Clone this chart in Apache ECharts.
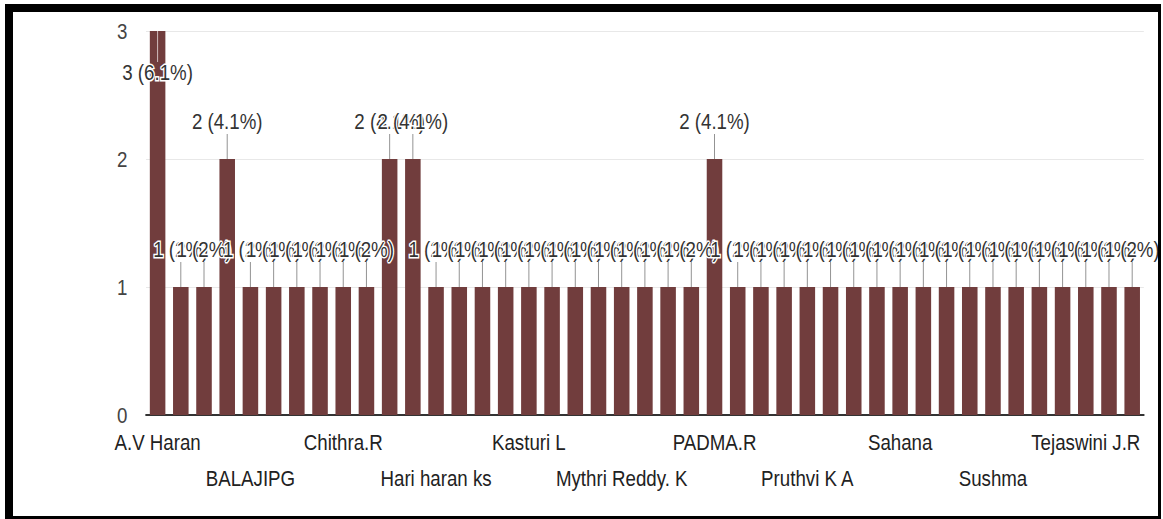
<!DOCTYPE html>
<html>
<head>
<meta charset="utf-8">
<script src="https://cdn.jsdelivr.net/npm/echarts@6/dist/echarts.min.js"></script>
<style>
  html, body { margin: 0; padding: 0; background: #fff; overflow: hidden; }
  #wrap { position: absolute; left: 0; top: 0; width: 1163px; height: 519px; overflow: hidden; }
  #chart { position: absolute; left: 0; top: 0; width: 1368px; height: 519px; transform: scaleX(0.85); transform-origin: 0 0; }
  #frame { position: absolute; left: 5px; top: 4px; width: 1156px; height: 515px; box-sizing: border-box;
           border-left: 8px solid #000; border-top: 8px solid #000; border-right: 3px solid #000; border-bottom: 3px solid #000;
           pointer-events: none; }
</style>
</head>
<body>
<div id="wrap"><div id="chart"></div></div>
<div id="frame"></div>
<script>
const names = [
  'A.V Haran', 'Abhishek M', 'Anitha K', 'Arun Kumar', 'BALAJIPG', 'Bhavya S', 'Chaitra N', 'Chandan R',
  'Chithra.R', 'Deepa M', 'Divya K', 'Ganesh B', 'Hari haran ks', 'Harish N', 'Kavya R', 'Kiran S',
  'Kasturi L', 'Lakshmi P', 'Madhu K', 'Manjunath H', 'Mythri Reddy. K', 'Nagaraj S', 'Nandini M', 'Navya G',
  'PADMA.R', 'Pavan K', 'Pooja B', 'Prakash R', 'Pruthvi K A', 'Rakesh T', 'Ramya S', 'Ravi Kumar',
  'Sahana', 'Sandeep M', 'Shilpa R', 'Sowmya K', 'Sushma', 'Swathi N', 'Sunil B', 'Tanuja H',
  'Tejaswini J.R', 'Usha M', 'Vinay K'
];
const counts = [
  3, 1, 1, 2, 1, 1, 1, 1,
  1, 1, 2, 2, 1, 1, 1, 1,
  1, 1, 1, 1, 1, 1, 1, 1,
  2, 1, 1, 1, 1, 1, 1, 1,
  1, 1, 1, 1, 1, 1, 1, 1,
  1, 1, 1
];
const yTicks = [0, 1, 2, 3];

const total = counts.reduce((a, b) => a + b, 0);
const maxVal = Math.max(...counts);
const FONT = '"Liberation Sans", Arial, sans-serif';
const SX = 0.85; // horizontal condensing of the whole drawing (narrow-font look)

function pctText(v) {
  const p = Math.round(v / total * 1000) / 10;
  const s = (p % 1 === 0) ? String(p) : p.toFixed(1);
  return v + ' (' + s + '%)';
}

const xLabelBase = { color: '#222', fontFamily: FONT, fontSize: 22 };

const chart = echarts.init(document.getElementById('chart'), null, { renderer: 'svg' });
chart.setOption({
  backgroundColor: '#fff',
  animation: false,
  grid: { left: 146 / SX, right: 19 / SX, top: 31, bottom: 104, containLabel: false },
  xAxis: [
    {
      type: 'category',
      data: names,
      axisLine: { show: true, lineStyle: { color: '#333', width: 2 } },
      axisTick: { show: false },
      axisLabel: Object.assign({}, xLabelBase, {
        margin: 16,
        interval: function (index) { return index % 8 === 0; }
      })
    },
    {
      type: 'category',
      data: names,
      position: 'bottom',
      axisLine: { show: false },
      axisTick: { show: false },
      splitLine: { show: false },
      axisLabel: Object.assign({}, xLabelBase, {
        margin: 52,
        interval: function (index) { return index % 8 === 4; }
      })
    }
  ],
  yAxis: {
    type: 'value',
    min: yTicks[0],
    max: yTicks[yTicks.length - 1],
    interval: 1,
    axisLine: { show: false },
    axisTick: { show: false },
    axisLabel: { color: '#444', fontFamily: FONT, fontSize: 22, margin: 22 },
    splitLine: { show: true, lineStyle: { color: '#e6e6e6', width: 1 } }
  },
  series: [
    {
      type: 'bar',
      data: counts,
      xAxisIndex: 0,
      barCategoryGap: '33%',
      itemStyle: { color: '#713d3d' },
      z: 2
    },
    {
      type: 'custom',
      xAxisIndex: 0,
      clip: false,
      z: 5,
      data: counts.map((v, i) => [i, v]),
      renderItem: function (params, api) {
        const i = api.value(0);
        const v = api.value(1);
        const p = api.coord([i, v]);
        const inside = (v === maxVal);
        const lineEnd = inside ? p[1] + 31 : p[1] - 25;
        const textY = inside ? p[1] + 41 : p[1] - 38;
        return {
          type: 'group',
          children: [
            {
              type: 'line',
              shape: { x1: p[0], y1: p[1], x2: p[0], y2: lineEnd },
              style: { stroke: inside ? '#d8c8c8' : '#8a8a8a', lineWidth: 1 }
            },
            {
              type: 'text',
              style: {
                text: pctText(v),
                x: p[0],
                y: textY,
                align: 'center',
                verticalAlign: 'middle',
                fontFamily: FONT,
                fontSize: 22,
                fill: '#333',
                stroke: '#fff',
                lineWidth: 3,
                strokeFirst: true
              }
            }
          ]
        };
      }
    }
  ]
});
</script>
</body>
</html>
